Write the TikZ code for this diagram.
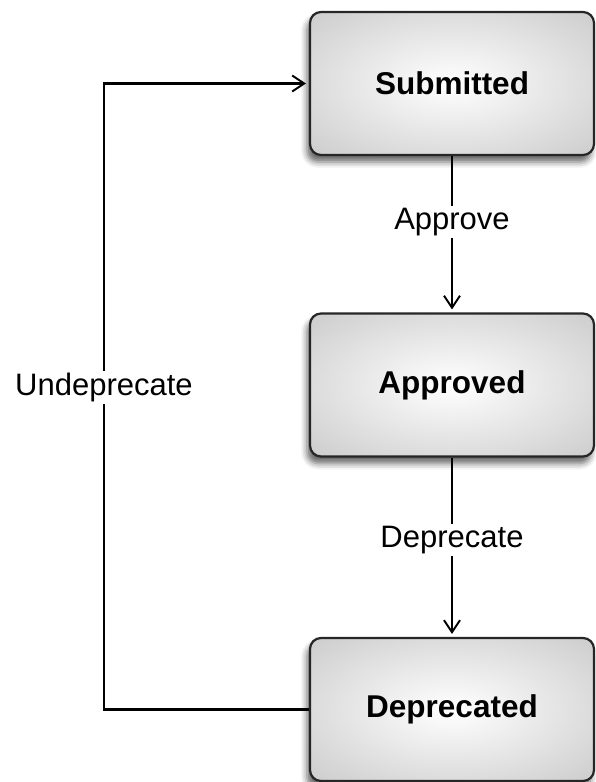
\documentclass[tikz,border=0pt]{standalone}
\usepackage{fontspec}
\setmainfont{Liberation Sans}
\usetikzlibrary{arrows.meta, shadows.blur}
\pgfdeclareradialshading{boxglow}{\pgfpoint{0bp}{0bp}}{color(0bp)=(white); color(50bp)=(black!28)}

\begin{document}
\begin{tikzpicture}[x=1pt, y=-1pt, line width=2.2pt, >={Straight Barb[length=12pt, width=16pt, line width=1.9pt]},
  state/.style={draw=black!85, rounded corners=11pt, shading=boxglow, minimum width=284pt, minimum height=143pt, inner sep=0pt, font=\fontsize{31.5}{37}\selectfont\bfseries, blur shadow={shadow xshift=-3pt, shadow yshift=-7pt, shadow blur radius=6pt, shadow opacity=60}},
  lbl/.style={fill=white, inner sep=2pt, font=\fontsize{31}{37}\selectfont}]
  \useasboundingbox (0,0) rectangle (595,782);

  \node[state] (sub) at (452,83.5) {Submitted};
  \node[state] (app) at (452,385) {Approved};
  \node[state] (dep) at (452,709.5) {Deprecated};

  % corners of the way back
  \coordinate (bl) at (104,709.5);
  \coordinate (tl) at (104,83.5);

  \draw[->, shorten >=3pt] (sub) -- node[lbl, pos=0.42] {Approve} (app);
  \draw[->, shorten >=3pt] (app) -- node[lbl, pos=0.46] {Deprecate} (dep);
  \draw[->, shorten >=3pt] (dep.west) -- (bl) -- node[lbl, pos=0.515] {Undeprecate} (tl) -- (sub.west);
\end{tikzpicture}
\end{document}
